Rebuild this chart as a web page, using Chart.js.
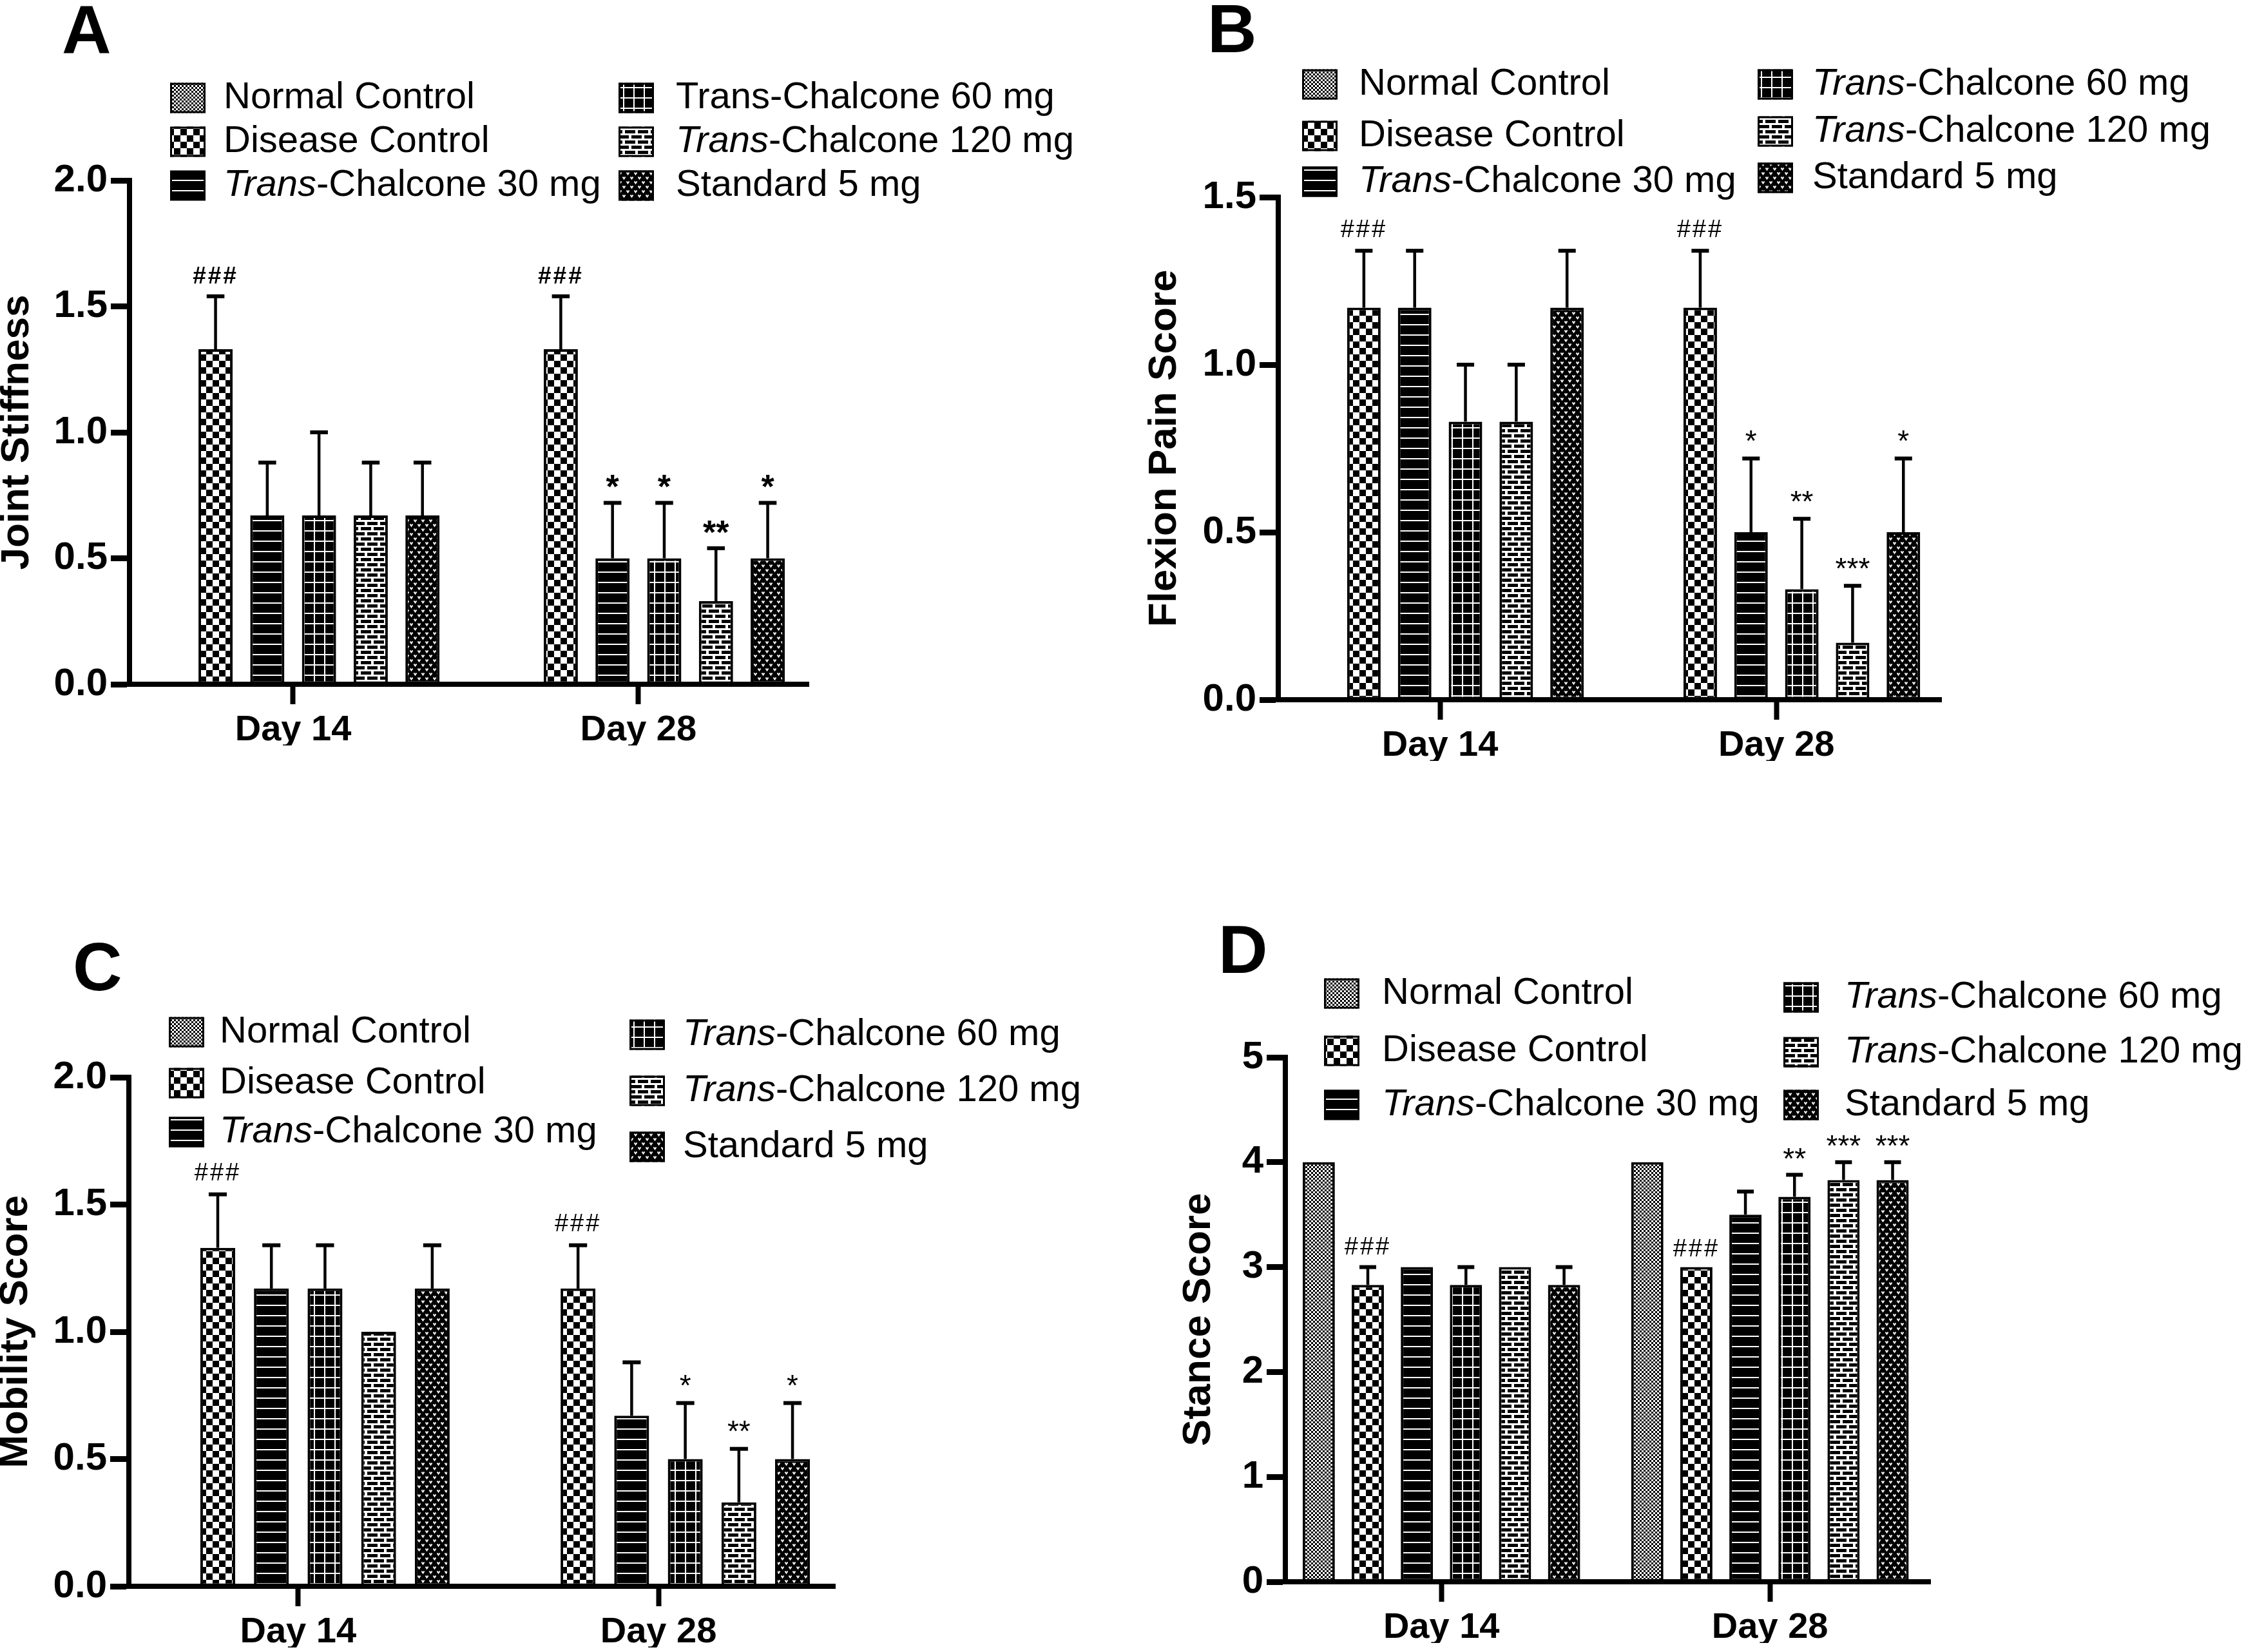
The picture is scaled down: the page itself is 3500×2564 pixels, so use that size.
<!DOCTYPE html>
<html><head><meta charset="utf-8">
<script src="https://cdn.jsdelivr.net/npm/chart.js@4.4.1/dist/chart.umd.min.js"></script>
<style>
html,body{margin:0;padding:0;background:#fff;width:3500px;height:2564px;overflow:hidden}
canvas{position:absolute}
</style></head><body>
<canvas id="cA" width="1750" height="1282" style="left:0;top:0"></canvas>
<canvas id="cB" width="1750" height="1282" style="left:1750px;top:0"></canvas>
<canvas id="cC" width="1750" height="1282" style="left:0;top:1282px"></canvas>
<canvas id="cD" width="1750" height="1282" style="left:1750px;top:1282px"></canvas>
<script>
// ---------- data ----------
const groups = ['Normal Control','Disease Control','Trans-Chalcone 30 mg','Trans-Chalcone 60 mg','Trans-Chalcone 120 mg','Standard 5 mg'];
const days = ['Day 14','Day 28'];

// Panel A: Joint Stiffness  (per group: [Day 14, Day 28])
const jointMean = [[0,0],[1.33,1.33],[0.67,0.5],[0.67,0.5],[0.67,0.33],[0.67,0.5]];
const jointSem  = [[0,0],[0.21,0.21],[0.21,0.22],[0.33,0.22],[0.21,0.21],[0.21,0.22]];
const jointSig  = [['',''],['###','###'],['','*'],['','*'],['','**'],['','*']];
const jointTicks = [0,0.5,1.0,1.5,2.0];

// Panel B: Flexion Pain Score
const flexMean = [[0,0],[1.17,1.17],[1.17,0.5],[0.83,0.33],[0.83,0.17],[1.17,0.5]];
const flexSem  = [[0,0],[0.17,0.17],[0.17,0.22],[0.17,0.21],[0.17,0.17],[0.17,0.22]];
const flexSig  = [['',''],['###','###'],['','*'],['','**'],['','***'],['','*']];
const flexTicks = [0,0.5,1.0,1.5];

// Panel C: Mobility Score
const mobMean = [[0,0],[1.33,1.17],[1.17,0.67],[1.17,0.5],[1.0,0.33],[1.17,0.5]];
const mobSem  = [[0,0],[0.21,0.17],[0.17,0.21],[0.17,0.22],[0,0.21],[0.17,0.22]];
const mobSig  = [['',''],['###','###'],['',''],['','*'],['','**'],['','*']];
const mobTicks = [0,0.5,1.0,1.5,2.0];

// Panel D: Stance Score
const stanceMean = [[4,4],[2.83,3],[3,3.5],[2.83,3.67],[3,3.83],[2.83,3.83]];
const stanceSem  = [[0,0],[0.17,0],[0,0.22],[0.17,0.21],[0,0.17],[0.17,0.17]];
const stanceSig  = [['',''],['###','###'],['',''],['','**'],['','***'],['','***']];
const stanceTicks = [0,1,2,3,4,5];

// ---------- styling ----------
const FAM = '"Liberation Sans", Arial, Helvetica, sans-serif';
Chart.defaults.font.family = FAM;
Chart.defaults.color = '#000';

// category scale with adjustable end gaps (GraphPad-like asymmetric spacing)
class GapCategoryScale extends Chart.CategoryScale {
  static id = 'gapcategory';
  configure() {
    super.configure();
    const lo = this.options.lowPad, hi = this.options.highPad;
    if (typeof lo === 'number' && typeof hi === 'number') {
      this._startValue = this.min - lo;
      this._valueRange = (this.max - this.min) + lo + hi;
    }
  }
}
Chart.register(GapCategoryScale);

function tile(w,h,draw){const c=document.createElement('canvas');c.width=w;c.height=h;const g=c.getContext('2d');draw(g);return g.createPattern(c,'repeat');}
const patterns = [
  // normal: fine checker
  tile(6,6,g=>{g.fillStyle='#fff';g.fillRect(0,0,6,6);g.fillStyle='#000';g.fillRect(0,0,3,3);g.fillRect(3,3,3,3);}),
  // disease: coarse checker
  tile(20,20,g=>{g.fillStyle='#fff';g.fillRect(0,0,20,20);g.fillStyle='#000';g.fillRect(0,0,10,10);g.fillRect(10,10,10,10);}),
  // 30 mg: black with white horizontal lines
  tile(16,16,g=>{g.fillStyle='#000';g.fillRect(0,0,16,16);g.fillStyle='#fff';g.fillRect(0,7,16,2);}),
  // 60 mg: black with white grid
  tile(16,16,g=>{g.fillStyle='#000';g.fillRect(0,0,16,16);g.fillStyle='#fff';g.fillRect(7,0,2,16);g.fillRect(0,7,16,2);}),
  // 120 mg: brick
  tile(20,16,g=>{g.fillStyle='#fff';g.fillRect(0,0,20,16);g.fillStyle='#000';g.fillRect(0,2,16,5);g.fillRect(10,10,10,5);g.fillRect(0,10,6,5);}),
  // standard: black with small white v marks
  tile(12,14,g=>{g.fillStyle='#000';g.fillRect(0,0,12,14);g.strokeStyle='#fff';g.lineWidth=2;
    g.beginPath();g.moveTo(0.5,1.5);g.lineTo(2.5,4.5);g.lineTo(4.5,1.5);g.moveTo(6.5,8.5);g.lineTo(8.5,11.5);g.lineTo(10.5,8.5);g.stroke();})
];

const deco = {
  id:'deco',
  afterDatasetsDraw(chart, args, o){
    const ctx = chart.ctx, ys = chart.scales.y;
    ctx.save();
    // error bars and significance marks
    chart.data.datasets.forEach((ds,i)=>{
      const meta = chart.getDatasetMeta(i);
      meta.data.forEach((bar,j)=>{
        const v = ds.data[j], s = o.sem[i][j];
        let top = bar.y;
        if (s > 0) {
          const yt = ys.getPixelForValue(v + s);
          ctx.strokeStyle = '#000'; ctx.lineCap = 'butt';
          ctx.lineWidth = 4.5;
          ctx.beginPath(); ctx.moveTo(bar.x, bar.y); ctx.lineTo(bar.x, yt); ctx.stroke();
          ctx.lineWidth = 6;
          ctx.beginPath(); ctx.moveTo(bar.x - bar.width*0.26, yt); ctx.lineTo(bar.x + bar.width*0.26, yt); ctx.stroke();
          top = yt - 3;
        }
        const t = o.sig[i][j];
        if (t) {
          const isHash = t[0] === '#';
          ctx.font = isHash ? o.hashFont : o.starFont;
          if ('letterSpacing' in ctx) ctx.letterSpacing = isHash ? '3px' : '0px';
          ctx.fillStyle = '#000'; ctx.textAlign = 'center'; ctx.textBaseline = 'alphabetic';
          const m = ctx.measureText(t);
          const cy = top - o.sigOff;
          ctx.fillText(t, bar.x, cy + (m.actualBoundingBoxAscent - m.actualBoundingBoxDescent)/2);
        }
      });
    });
    if ('letterSpacing' in ctx) ctx.letterSpacing = '0px';
    // legend
    const L = o.legend;
    const order = [[0,0,0],[1,0,1],[2,0,2],[3,1,0],[4,1,1],[5,1,2]];
    order.forEach(([g,col,row])=>{
      const cy = L.rows[col][row];
      const sx = L.sw[col];
      ctx.fillStyle = patterns[g];
      ctx.fillRect(sx, cy-23.5, 55, 47);
      ctx.strokeStyle = '#000'; ctx.lineWidth = 3;
      ctx.strokeRect(sx+1.5, cy-22, 52, 44);
      const label = chart.data.datasets[g].label;
      let x = L.tx[col];
      ctx.fillStyle = '#000'; ctx.textAlign = 'left'; ctx.textBaseline = 'middle';
      if (o.italic[g] && label.startsWith('Trans')) {
        ctx.font = 'italic 58px ' + FAM;
        ctx.fillText('Trans', x, cy);
        x += ctx.measureText('Trans').width;
        ctx.font = '58px ' + FAM;
        ctx.fillText(label.slice(5), x, cy);
      } else {
        ctx.font = '58px ' + FAM;
        ctx.fillText(label, x, cy);
      }
    });
    // panel letter
    ctx.font = 'bold 106px ' + FAM; ctx.textAlign = 'left'; ctx.textBaseline = 'alphabetic';
    ctx.fillStyle = '#000';
    ctx.fillText(o.letter, o.letterX, o.letterY);
    ctx.restore();
  }
};

function makeChart(id, cfg){
  const datasets = groups.map((g,i)=>({
    label: g,
    data: cfg.mean[i],
    backgroundColor: patterns[i],
    borderColor: '#000',
    borderWidth: 4,
    borderSkipped: false,
    barPercentage: cfg.barPct,
    categoryPercentage: cfg.catPct
  }));
  return new Chart(document.getElementById(id), {
    type: 'bar',
    data: { labels: days, datasets },
    options: {
      responsive: false, animation: false, devicePixelRatio: 1,
      layout: { padding: cfg.pad },
      plugins: {
        legend: { display: false }, tooltip: { enabled: false },
        deco: {
          sem: cfg.sem, sig: cfg.sig, legend: cfg.legend, italic: cfg.italic,
          letter: cfg.letter, letterX: cfg.letterX, letterY: cfg.letterY,
          hashFont: cfg.hashFont, starFont: cfg.starFont, sigOff: cfg.sigOff
        }
      },
      scales: {
        x: {
          type: 'gapcategory',
          offset: true, lowPad: cfg.lowPad, highPad: cfg.highPad,
          grid: { display: true, drawOnChartArea: false, drawTicks: true, offset: false, tickLength: 31, tickWidth: 8, tickColor: '#000' },
          border: { display: true, color: '#000', width: 8 },
          ticks: { font: { size: 56, weight: 'bold' }, color: '#000', padding: 7, maxRotation: 0, autoSkip: false },
          afterFit: s => { s.height = 95; }
        },
        y: {
          min: cfg.ticks[0], max: cfg.ticks[cfg.ticks.length-1],
          afterBuildTicks: s => { s.ticks = cfg.ticks.map(v => ({ value: v })); },
          ticks: { font: { size: 60, weight: 'bold' }, color: '#000', padding: 5,
                   callback: v => cfg.decimals ? Number(v).toFixed(1) : String(v) },
          grid: { display: true, drawOnChartArea: false, drawTicks: true, tickLength: 29, tickWidth: 9, tickColor: '#000' },
          border: { display: true, color: '#000', width: 8 },
          title: { display: true, text: cfg.title, color: '#000', padding: 0,
                   font: { size: 62, weight: 'bold', lineHeight: 0.8 } },
          afterFit: s => { s.width = cfg.yWidth; }
        }
      }
    },
    plugins: [deco]
  });
}

const italicStd = [false,false,true,true,true,false];

makeChart('cA', {
  mean: jointMean, sem: jointSem, sig: jointSig, ticks: jointTicks, decimals: true,
  title: 'Joint Stiffness', yWidth: 199,
  pad: { left: 2, right: 495, top: 280, bottom: 125 },
  lowPad: 0.474, highPad: 0.493,
  barPct: 0.66, catPct: 0.899,
  legend: { sw: [264, 960], tx: [347, 1049], rows: [[152,220,288],[152,220,288]] },
  italic: [false,false,true,false,true,false],
  letter: 'A', letterX: 96, letterY: 83,
  hashFont: 'bold 37px ' + FAM, starFont: 'bold 52px ' + FAM, sigOff: 30
});
makeChart('cB', {
  mean: flexMean, sem: flexSem, sig: flexSig, ticks: flexTicks, decimals: true,
  title: 'Flexion Pain Score', yWidth: 201,
  pad: { left: 33, right: 487, top: 306, bottom: 101 },
  lowPad: 0.481, highPad: 0.490,
  barPct: 0.66, catPct: 0.906,
  legend: { sw: [271, 978], tx: [359, 1063], rows: [[131,211,282],[131,204,276]] },
  italic: italicStd,
  letter: 'B', letterX: 124, letterY: 81,
  hashFont: '38px ' + FAM, starFont: '46px ' + FAM, sigOff: 32
});
makeChart('cC', {
  mean: mobMean, sem: mobSem, sig: mobSig, ticks: mobTicks, decimals: true,
  title: 'Mobility Score', yWidth: 200,
  pad: { left: 0, right: 454, top: 390, bottom: 7 },
  lowPad: 0.470, highPad: 0.490,
  barPct: 0.65, catPct: 0.893,
  legend: { sw: [262, 977], tx: [341, 1060], rows: [[320,399,475],[324,411,498]] },
  italic: italicStd,
  letter: 'C', letterX: 113, letterY: 255,
  hashFont: '38px ' + FAM, starFont: '46px ' + FAM, sigOff: 32
});
makeChart('cD', {
  mean: stanceMean, sem: stanceSem, sig: stanceSig, ticks: stanceTicks, decimals: false,
  title: 'Stance Score', yWidth: 159,
  pad: { left: 86, right: 504, top: 359, bottom: 14 },
  lowPad: 0.475, highPad: 0.488,
  barPct: 0.656, catPct: 0.896,
  legend: { sw: [305, 1018], tx: [395, 1113], rows: [[260,349,433],[266,351,433]] },
  italic: italicStd,
  letter: 'D', letterX: 141, letterY: 228,
  hashFont: '38px ' + FAM, starFont: '46px ' + FAM, sigOff: 30
});
</script>
</body></html>
